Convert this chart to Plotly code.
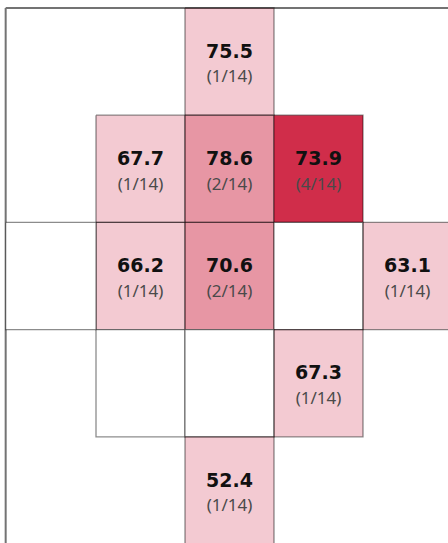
import plotly.graph_objects as go

# Zone data: (col, row) in zone-grid units, inner zone spans 0..3
inner_cols = [0, 1, 2, 0, 1, 2, 0, 1, 2]
inner_rows = [0, 0, 0, 1, 1, 1, 2, 2, 2]
inner_values = [67.7, 78.6, 73.9, 66.2, 70.6, None, None, None, 67.3]
inner_counts = [1, 2, 4, 1, 2, 0, 0, 0, 1]

outer_names = ["top", "right", "bottom", "left"]
outer_cols = [1, 3, 1, -1]
outer_rows = [-1, 1, 3, 1]
outer_values = [75.5, 63.1, 52.4, None]
outer_counts = [1, 1, 1, 0]

total = 14
base_rgb = (208, 45, 74)

cols = inner_cols + outer_cols
rows = inner_rows + outer_rows
values = inner_values + outer_values
counts = inner_counts + outer_counts
max_count = max(counts)

fig = go.Figure()

# outer boundary
fig.add_trace(go.Scatter(
    x=[-1.015, 4, 4, -1.015, -1.015], y=[-1, -1, 4, 4, -1], mode="lines",
    line=dict(color="rgba(0,0,0,0.55)", width=2), hoverinfo="skip", showlegend=False))

for c, r, v, n in zip(cols, rows, values, counts):
    a = n / max_count if n else 0
    fill = f"rgba({base_rgb[0]},{base_rgb[1]},{base_rgb[2]},{a:.3f})" if n else "rgba(255,255,255,1)"
    x_left = c if c >= 0 else -1.015
    fig.add_trace(go.Scatter(
        x=[x_left, c + 1, c + 1, x_left, x_left], y=[r, r, r + 1, r + 1, r],
        mode="lines", fill="toself", fillcolor=fill,
        line=dict(color="rgba(0,0,0,0.45)", width=1.3),
        hoverinfo="skip", showlegend=False))

tx, ty_v, ty_f, tv, tf = [], [], [], [], []
for c, r, v, n in zip(cols, rows, values, counts):
    if v is None:
        continue
    tx.append(c + 0.5)
    ty_v.append(r + 0.42)
    ty_f.append(r + 0.655)
    tv.append(f"<b>{v:.1f}</b>")
    tf.append(f"({n}/{total})")

fig.add_trace(go.Scatter(x=tx, y=ty_v, mode="text", text=tv,
                         textfont=dict(family="DejaVu Sans", size=19, color="#111111"),
                         hoverinfo="skip", showlegend=False))
fig.add_trace(go.Scatter(x=tx, y=ty_f, mode="text", text=tf,
                         textfont=dict(family="Noto Sans", size=17, color="#4a4a4a"),
                         hoverinfo="skip", showlegend=False))

cw, ch = 89.0, 107.0
x0px, y0px = 96.0, 115.0
fig.update_layout(
    width=448, height=543,
    margin=dict(l=0, r=0, t=0, b=0),
    paper_bgcolor="white", plot_bgcolor="white",
    xaxis=dict(range=[-x0px / cw, (448 - x0px) / cw], visible=False, fixedrange=True),
    yaxis=dict(range=[(542 - y0px) / ch, -y0px / ch], visible=False, fixedrange=True),
)

fig.write_html("out.html", config={"displayModeBar": False},
               post_script="document.body.style.margin='0';document.body.style.overflow='hidden';")
